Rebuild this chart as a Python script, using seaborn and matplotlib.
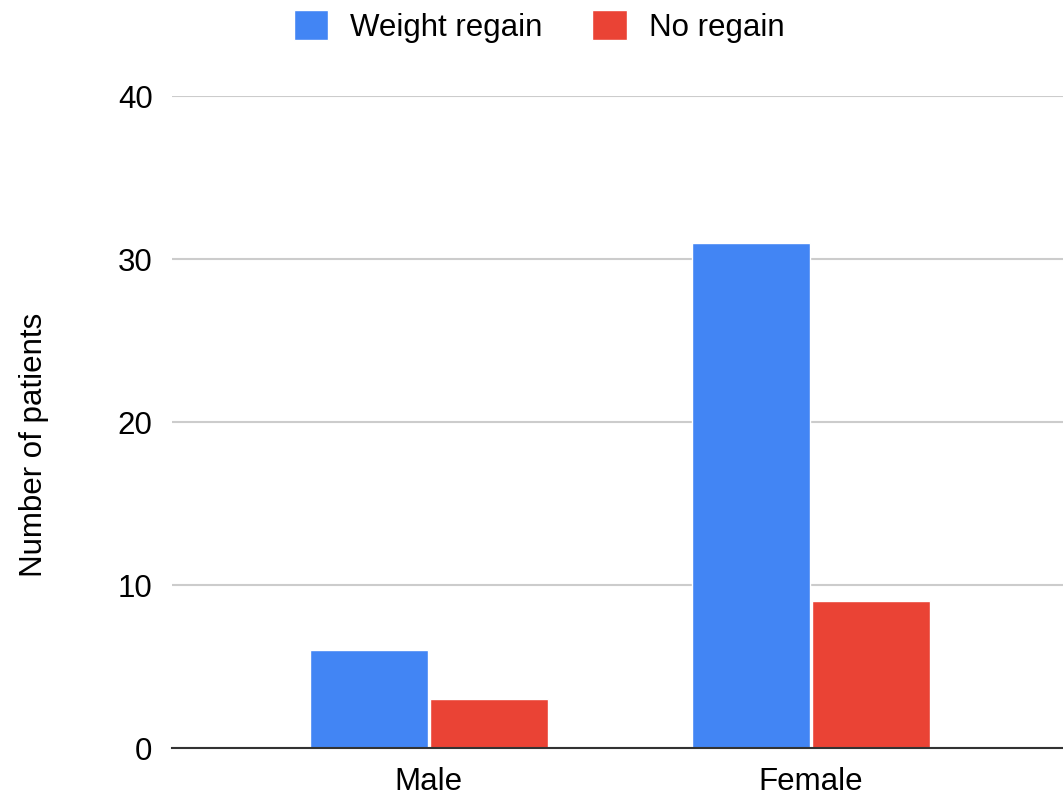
import pandas as pd
import matplotlib.pyplot as plt
import seaborn as sns

# values
sexes = ['Male', 'Female']
weight_regain = [6, 31]
no_regain = [3, 9]
series_names = ['Weight regain', 'No regain']
colors = ['#4285F4', '#EA4335']

df = pd.DataFrame({
    'sex': sexes * 2,
    'group': [series_names[0]] * 2 + [series_names[1]] * 2,
    'patients': weight_regain + no_regain,
})

sns.set_theme(style='white')
plt.rcParams['font.family'] = ['Liberation Sans', 'DejaVu Sans']
plt.rcParams['text.color'] = 'black'
plt.rcParams['axes.labelcolor'] = 'black'

fig = plt.figure(figsize=(10.63, 7.99), dpi=100)
ax = fig.add_axes([0.1618, 0.0638, 0.8382, 0.816])

sns.barplot(data=df, x='sex', y='patients', hue='group', palette=colors,
            width=0.628, gap=0.02, saturation=1, ax=ax, legend=True)

ax.set_xlim(-0.672, 1.66)
ax.set_ylim(0, 40)
ax.set_yticks([0, 10, 20, 30, 40])
ax.yaxis.grid(True, color='#cccccc', linewidth=1.5)
ax.set_axisbelow(True)
for s in ['top', 'right', 'left']:
    ax.spines[s].set_visible(False)
ax.spines['bottom'].set_color('#333333')
ax.spines['bottom'].set_linewidth(1.5)
ax.tick_params(axis='both', length=0, labelsize=22.5, colors='black')
ax.tick_params(axis='y', pad=14)
ax.tick_params(axis='x', pad=14)
ax.set_xlabel('')
ax.set_ylabel('Number of patients', fontsize=22.5, color='black')
ax.yaxis.set_label_coords(-0.138, 0.465)

handles, labels = ax.get_legend_handles_labels()
ax.get_legend().remove()
fig.legend(handles, labels, loc='center', bbox_to_anchor=(0.507, 0.967),
           ncol=2, frameon=False, fontsize=22.5, handlelength=1.1,
           handleheight=1.1, handletextpad=0.7, columnspacing=1.6,
           labelcolor='black')

fig.savefig('out.png', dpi=100)
